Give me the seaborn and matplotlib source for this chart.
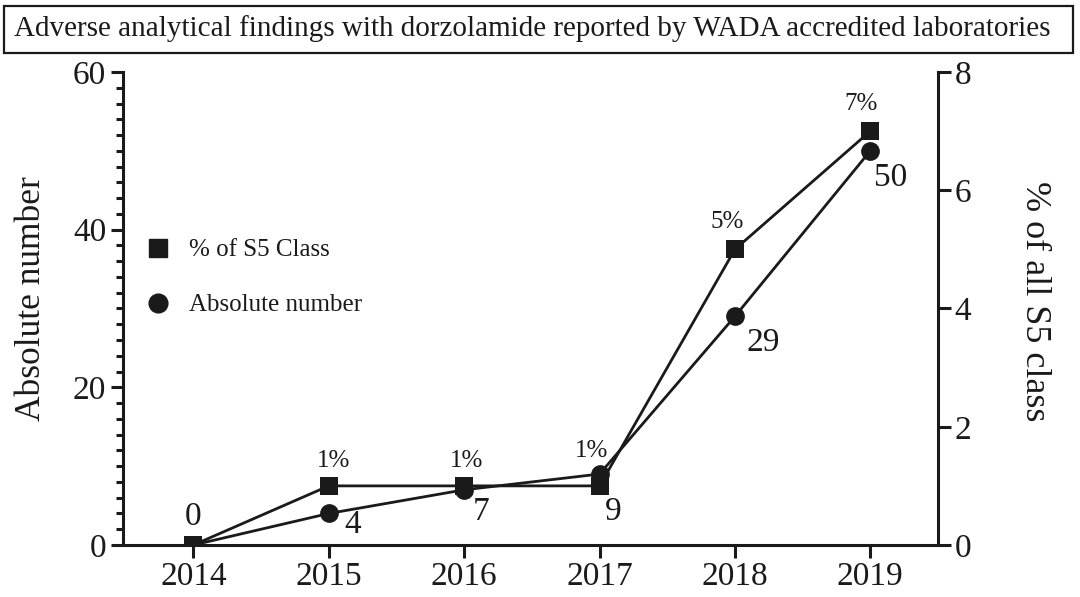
import matplotlib
matplotlib.use("Agg")
import matplotlib.pyplot as plt
import seaborn as sns
import pandas as pd
from matplotlib.lines import Line2D
from matplotlib.patches import Rectangle
from matplotlib.ticker import MultipleLocator

years = [2014, 2015, 2016, 2017, 2018, 2019]
absolute = [0, 4, 7, 9, 29, 50]
pct_s5 = [0, 1, 1, 1, 5, 7]
abs_labels = ["0", "4", "7", "9", "29", "50"]
pct_labels = ["", "1%", "1%", "1%", "5%", "7%"]
title = "Adverse analytical findings with dorzolamide reported by WADA accredited laboratories"

sns.set_style("ticks")
plt.rcParams["font.family"] = ["Liberation Serif", "DejaVu Serif"]

df = pd.DataFrame({"year": years, "absolute": absolute, "pct": pct_s5})
ink = "#1a1a1a"

fig = plt.figure(figsize=(10.8, 5.97), dpi=100)
ax = fig.add_axes([0.1139, 0.0871, 0.8685 - 0.1139, 0.8794 - 0.0871])
ax2 = ax.twinx()

sns.lineplot(data=df, x="year", y="absolute", ax=ax, color=ink, marker="o",
             markersize=13.5, linewidth=2.0, markeredgewidth=0, zorder=3)
sns.lineplot(data=df, x="year", y="pct", ax=ax2, color=ink, marker="s",
             markersize=13.5, linewidth=2.0, markeredgewidth=0, zorder=3)

ax.set_xlim(2013.48, 2019.5)
ax.set_ylim(0, 60)
ax2.set_ylim(0, 8)
ax.set_xticks(years)
ax.set_xticklabels([str(y) for y in years])
ax.set_yticks([0, 20, 40, 60])
ax.yaxis.set_minor_locator(MultipleLocator(2))
ax2.set_yticks([0, 2, 4, 6, 8])

for a in (ax, ax2):
    for s in a.spines.values():
        s.set_linewidth(2.2)
        s.set_color(ink)
    a.spines["top"].set_visible(False)
ax.spines["right"].set_visible(False)
ax2.spines["left"].set_visible(False)
ax2.spines["bottom"].set_visible(False)

ax.tick_params(axis="both", which="major", labelsize=24, length=9, width=2.2,
               color=ink, labelcolor=ink, pad=3)
ax.tick_params(axis="y", which="minor", length=5, width=2.2, color=ink)
ax.tick_params(axis="x", which="minor", length=0)
ax2.tick_params(axis="y", which="major", labelsize=24, length=9, width=2.2,
                color=ink, labelcolor=ink, pad=3)

ax.set_xlabel("")
ax.set_ylabel("Absolute number", fontsize=25.5, color=ink)
ax.yaxis.set_label_coords(-0.092, 0.52)
ax2.set_ylabel("% of all S5 class", fontsize=26, color=ink, rotation=270,
               va="center")
ax2.yaxis.set_label_coords(1.119, 0.515)

abs_offsets = [(0, 28), (24, -11), (17, -22), (14, -38), (28, -26), (20, -27)]
for x, y, lab, off in zip(years, absolute, abs_labels, abs_offsets):
    ax.annotate(lab, (x, y), xytext=off, textcoords="offset pixels",
                ha="center", va="center", fontsize=24, color=ink)

pct_offsets = [(0, 0), (5, 25), (2, 25), (-8, 35), (-8, 27), (-9, 27)]
for x, y, lab, off in zip(years, pct_s5, pct_labels, pct_offsets):
    if lab:
        ax2.annotate(lab, (x, y), xytext=off, textcoords="offset pixels",
                     ha="center", va="center", fontsize=18, color=ink)

handles = [
    Line2D([], [], color=ink, marker="s", linestyle="none", markersize=13.5),
    Line2D([], [], color=ink, marker="o", linestyle="none", markersize=13.5),
]
leg = ax.legend(handles, ["% of S5 Class", "Absolute number"], loc="upper left",
                bbox_to_anchor=(0.0, 0.695), frameon=False, fontsize=18,
                labelspacing=1.3, handletextpad=0.75, handlelength=1.0)
for t in leg.get_texts():
    t.set_color(ink)

fig.add_artist(Rectangle((0.0037, 0.9112), 0.9898, 0.0787, transform=fig.transFigure,
                         facecolor="white", edgecolor=ink, linewidth=1.6))
fig.text(0.4926, 0.9515, title, ha="center", va="center", fontsize=21,
         color=ink)

fig.savefig("out.png", dpi=100, facecolor="white")
